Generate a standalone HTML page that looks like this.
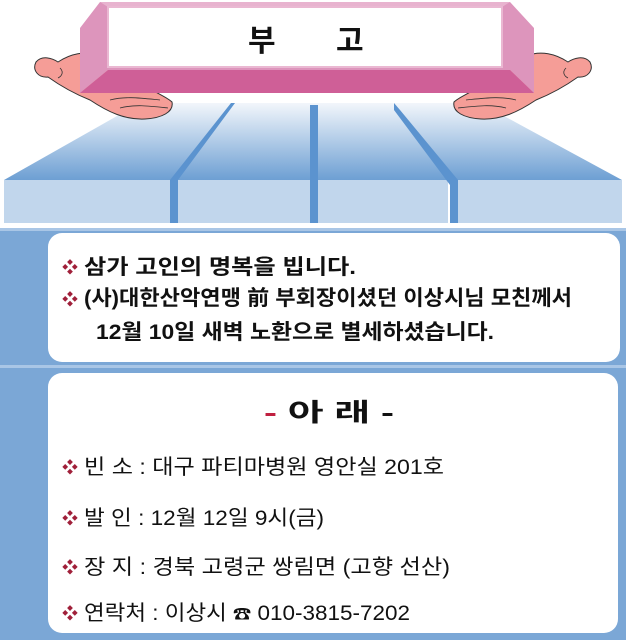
<!DOCTYPE html>
<html><head><meta charset="utf-8"><style>
html,body{margin:0;padding:0;width:626px;height:640px;overflow:hidden;background:#fff}
svg{display:block}
text{font-family:"Liberation Sans","Noto Sans CJK KR","NanumGothic",sans-serif}
</style></head><body>
<svg width="626" height="640" viewBox="0 0 626 640" xmlns="http://www.w3.org/2000/svg">
<defs>
<linearGradient id="top" x1="0" y1="0" x2="0" y2="1">
<stop offset="0" stop-color="#f2f6fb"/><stop offset="1" stop-color="#6d9fd3"/>
</linearGradient>
</defs>
<polygon points="140,103 480,103 622,180 4,180" fill="url(#top)"/>
<rect x="4" y="180" width="166" height="43" fill="#c1d6ec"/>
<rect x="178" y="180" width="132" height="43" fill="#c1d6ec"/>
<rect x="318" y="180" width="130" height="43" fill="#c1d6ec"/>
<rect x="458" y="180" width="164" height="43" fill="#c1d6ec"/>
<polygon points="231,103 235,103 178,180 178,223 170,223 170,180" fill="#5b93cf"/>
<rect x="310" y="105" width="8" height="118" fill="#5b93cf"/>
<polygon points="394,103 400,110 458,180 458,223 450,223 450,185 394,110" fill="#5b93cf"/>
<g fill="#f59d97" stroke="#333" stroke-width="1">
<path d="M90,100 C70,92 55,82 48,77 C38,78 32,70 36,62 C42,55 52,58 58,62 C70,54 85,50 100,56 L130,72 C145,90 165,95 172,102 C174,112 162,118 145,119 C125,120 108,112 90,100 Z"/>
<path d="M536,100 C556,92 571,82 578,77 C588,78 594,70 590,62 C584,55 574,58 568,62 C556,54 541,50 526,56 L496,72 C481,90 461,95 454,102 C452,112 464,118 481,119 C501,120 518,112 536,100 Z"/>
</g>
<g fill="none" stroke="#333" stroke-width="0.8">
<path d="M110,100 C125,96 140,98 160,100 M120,108 C135,104 150,106 168,108 M60,68 C64,72 62,76 58,78"/>
<path d="M516,100 C501,96 486,98 466,100 M506,108 C491,104 476,106 458,108 M566,68 C562,72 564,76 568,78"/>
</g>
<polygon points="80,28 100,2 510,2 534,28 534,93 510,70 108,70 80,93" fill="#dd95bc"/>
<polygon points="100,2 510,2 502,7 108,7" fill="#e8b3cf"/>
<polygon points="80,93 108,70 510,70 534,93" fill="#cf5f97"/>
<rect x="108" y="7" width="394" height="60" fill="#fff" stroke="#eab8d2" stroke-width="2"/>
<text x="248" y="51" font-size="30" font-weight="bold" fill="#111">부</text>
<text x="336" y="51" font-size="30" font-weight="bold" fill="#111">고</text>
<rect x="0" y="228" width="626" height="412" fill="#7ba7d6"/>
<rect x="0" y="228" width="626" height="3" fill="#a9c6e6"/>
<rect x="0" y="365" width="626" height="3" fill="#a9c6e6"/>
<rect x="48" y="233" width="572" height="129" rx="14" fill="#fff"/>
<rect x="48" y="373" width="570" height="260" rx="14" fill="#fff"/>
<g fill="#a0203a" font-size="16">
<text x="62" y="273">❖</text><text x="62" y="305">❖</text>
<text x="62" y="473">❖</text><text x="62" y="524">❖</text>
<text x="62" y="573">❖</text><text x="62" y="619">❖</text>
</g>
<g font-size="21" font-weight="bold" fill="#111">
<text x="84" y="274" textLength="272" lengthAdjust="spacingAndGlyphs">삼가 고인의 명복을 빕니다.</text>
<text x="84" y="305" textLength="488" lengthAdjust="spacingAndGlyphs">(사)대한산악연맹 前 부회장이셨던 이상시님 모친께서</text>
<text x="96" y="339" textLength="398" lengthAdjust="spacingAndGlyphs">12월 10일 새벽 노환으로 별세하셨습니다.</text>
</g>
<text x="264" y="421" font-size="25" font-weight="bold" fill="#111" textLength="130" lengthAdjust="spacingAndGlyphs"><tspan fill="#c02040">-</tspan> 아   래 -</text>
<g font-size="21" fill="#111">
<text x="84" y="474" textLength="360" lengthAdjust="spacingAndGlyphs">빈 소 : 대구 파티마병원 영안실 201호</text>
<text x="84" y="525" textLength="240" lengthAdjust="spacingAndGlyphs">발 인 : 12월 12일 9시(금)</text>
<text x="84" y="574" textLength="366" lengthAdjust="spacingAndGlyphs">장 지 : 경북 고령군 쌍림면 (고향 선산)</text>
<text x="84" y="620" textLength="326" lengthAdjust="spacingAndGlyphs">연락처 : 이상시 <tspan font-size="17">☎</tspan> 010-3815-7202</text>
</g>
</svg>
</body></html>
